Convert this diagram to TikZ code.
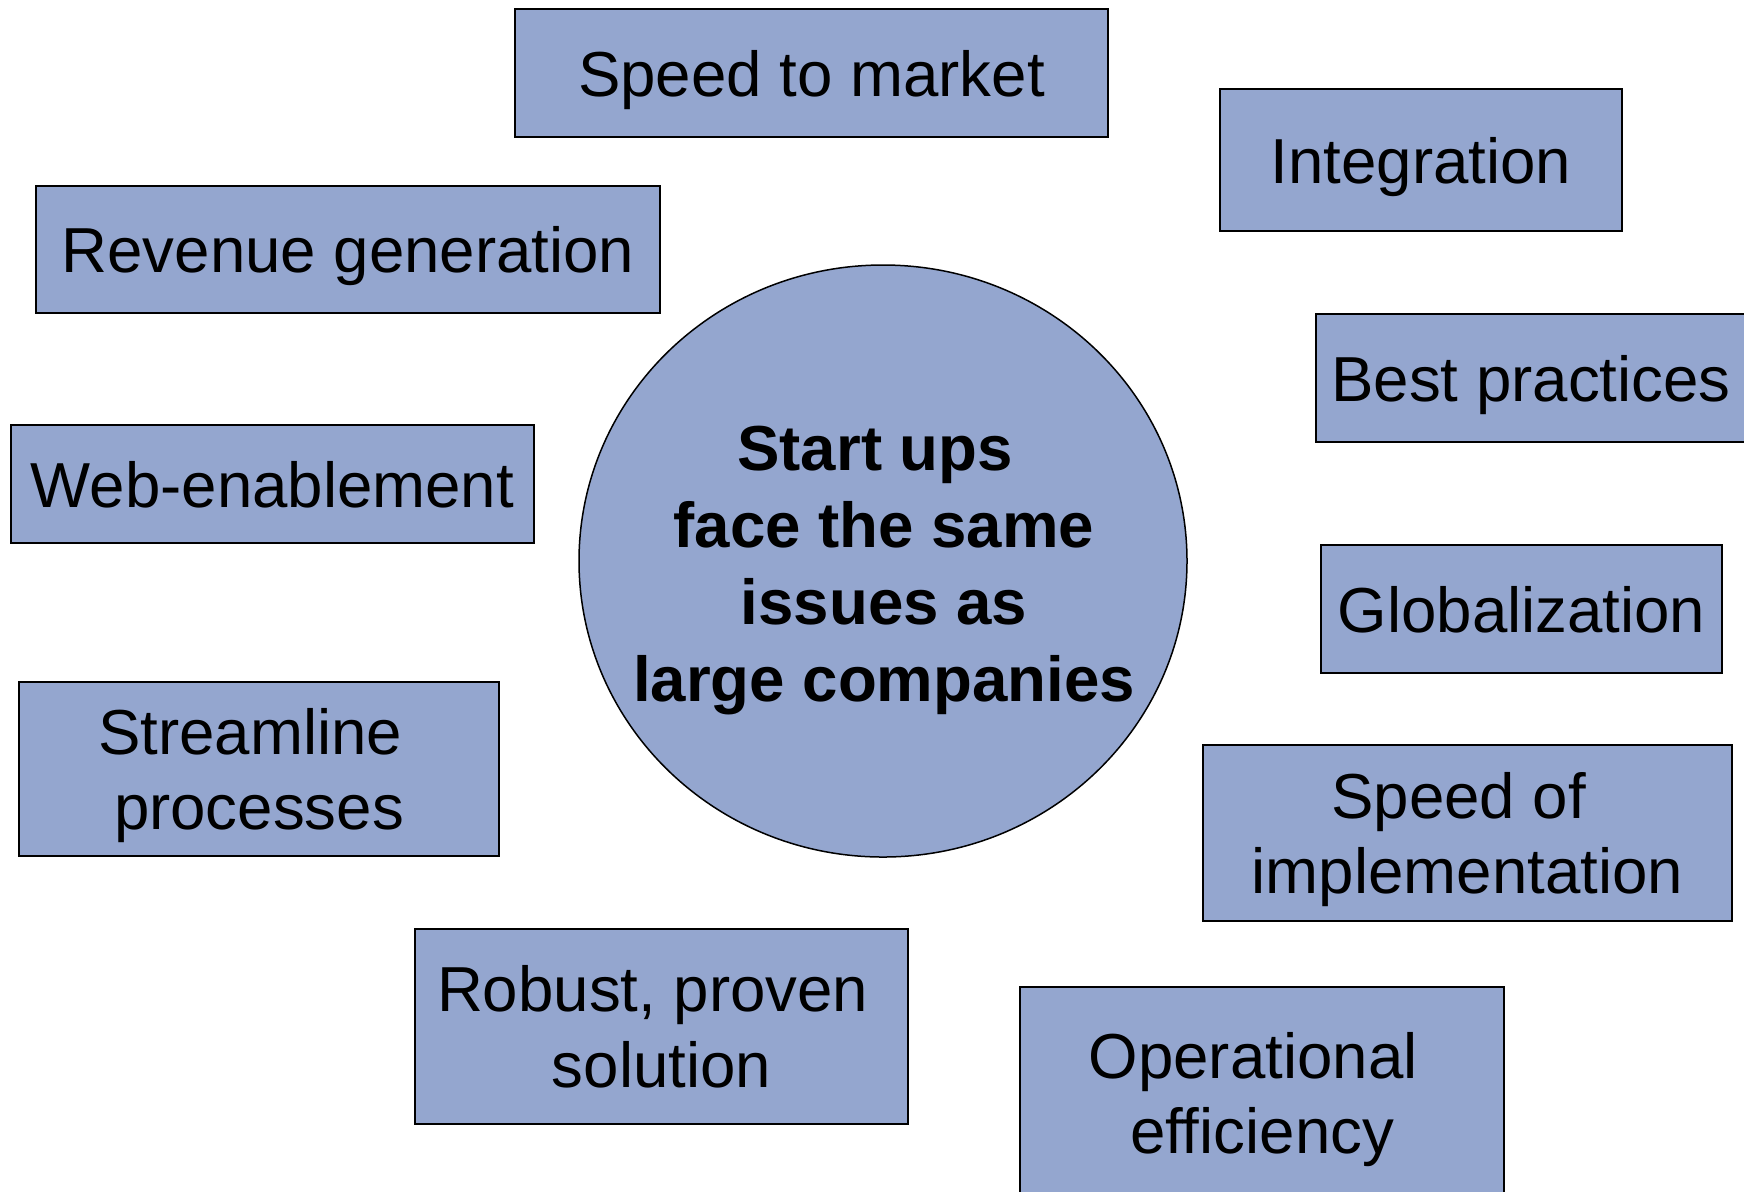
\documentclass[tikz,border=0pt]{standalone}
\usepackage{fontspec}
\setmainfont{Liberation Sans}
\usetikzlibrary{shapes.geometric}
\definecolor{issueblue}{RGB}{148,166,207}
\newcommand{\tsp}{\hspace*{.278em}}
\tikzset{
  issue/.style={draw, fill=issueblue, line width=0.75pt, align=center, inner sep=0pt,
    text depth=0pt, font=\fontsize{31.8}{37.8}\selectfont},
  hub/.style={draw, ellipse, fill=issueblue, line width=0.75pt, inner sep=0pt},
  hubtext/.style={align=center, text depth=0pt, font=\fontsize{31.8}{38.5}\selectfont\bfseries}
}

\begin{document}
\begin{tikzpicture}[x=0.5pt, y=-0.5pt]
    \useasboundingbox (0,0) rectangle (1744,1191);
    % centre
    \node[hub, minimum width=304pt, minimum height=296pt] (hub) at (883,561) {};
    \node[hubtext] (hubtext) at (884,564) {Start ups\tsp\\face the same\tsp\\issues as\\large companies};

    % top
    \node[issue, minimum width=296.5pt, minimum height=64pt] (speed) at (811.5,73) {Speed to market};
    \node[issue, minimum width=201pt, minimum height=71pt] (integ) at (1421,160) {Integration};

    % left
    \node[issue, minimum width=312pt, minimum height=63.5pt] (revenue) at (348,249.5) {Revenue generation};
    \node[issue, minimum width=261.5pt, minimum height=59pt] (web) at (272.5,484) {Web-enablement};
    \node[issue, minimum width=240pt, minimum height=87pt] (stream) at (259,769) {Streamline\tsp\\processes};
    \node[issue, minimum width=246.5pt, minimum height=97.5pt] (robust) at (661.5,1026.5) {Robust, proven\tsp\\solution};

    % right
    \node[issue, minimum width=215pt, minimum height=64pt] (best) at (1531,378) {Best practices};
    \node[issue, minimum width=200.5pt, minimum height=64pt] (glob) at (1521.5,609) {Globalization};
    \node[issue, minimum width=264.5pt, minimum height=88pt] (impl) at (1467.5,833) {Speed of\tsp\\implementation};
    \node[issue, minimum width=242pt, minimum height=106pt] (oper) at (1262,1093) {Operational\tsp\\efficiency};
\end{tikzpicture}
\end{document}
